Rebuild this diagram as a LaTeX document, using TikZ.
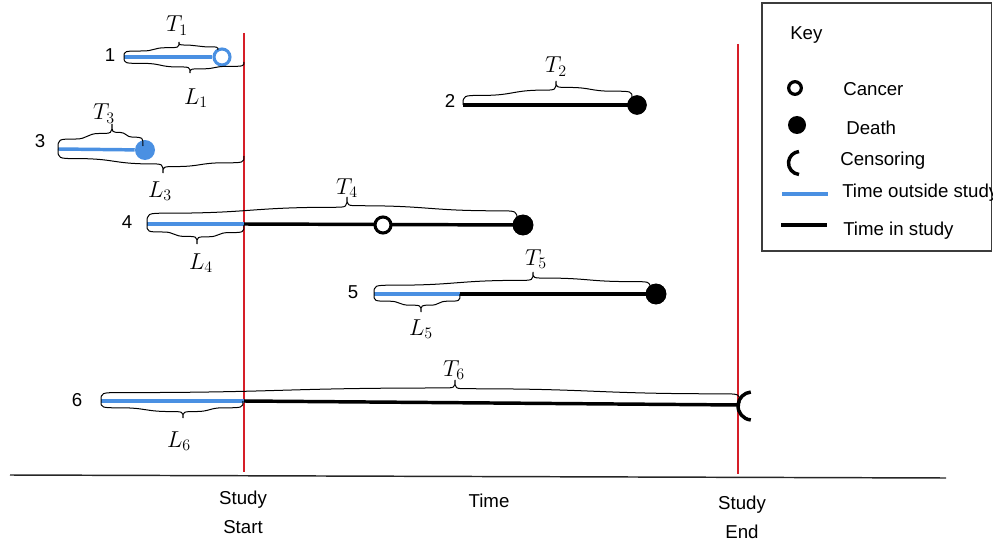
\documentclass[tikz,border=0pt]{standalone}
\usepackage{fontspec}
\setsansfont{Liberation Sans}
\usetikzlibrary{calc}
\definecolor{bluec}{RGB}{74,144,226}
\definecolor{redc}{RGB}{214,30,40}
\definecolor{boxc}{RGB}{60,60,60}
\newcommand\cbrace[3]{%
  \draw[bracestyle] let \p1=(#1),\p2=(#2),\p3=(#3),
    \n1={\y1+0.4*(\y2-\y1)}, \n2={\y1+0.62*(\y2-\y1)},
    \n3={\y3+0.4*(\y2-\y3)}, \n4={\y3+0.62*(\y2-\y3)},
    \n5={min(15pt,(\x2-\x1)/3)}, \n6={min(10pt,(\x2-\x1)/4)},
    \n7={min(15pt,(\x3-\x2)/3)}, \n8={min(10pt,(\x3-\x2)/4)}
  in (\p1) .. controls (\x1,{\n1*1pt}) .. ({\x1+\n5*1pt},{\n1*1pt})
  .. controls ({0.5*(\x1+\n5*1pt+\x2-\n6*1pt)},{\n1*1pt}) and ({0.5*(\x1+\n5*1pt+\x2-\n6*1pt)},{\n2*1pt}) .. ({\x2-\n6*1pt},{\n2*1pt})
  .. controls (\x2,{\n2*1pt}) .. (\p2)
  .. controls (\x2,{\n4*1pt}) .. ({\x2+\n8*1pt},{\n4*1pt})
  .. controls ({0.5*(\x2+\n8*1pt+\x3-\n7*1pt)},{\n4*1pt}) and ({0.5*(\x2+\n8*1pt+\x3-\n7*1pt)},{\n3*1pt}) .. ({\x3-\n7*1pt},{\n3*1pt})
  .. controls (\x3,{\n3*1pt}) .. (\p3);}
\begin{document}
\begin{tikzpicture}[x=0.75pt,y=-0.75pt,
  redline/.style={draw=redc,line width=1.6pt},
  axisline/.style={draw=black!85,line width=1.1pt},
  outline/.style={draw=bluec,line width=2.6pt},
  inline/.style={draw=black,line width=2.6pt},
  bracestyle/.style={draw=black,line width=0.75pt},
  opencirc/.style={circle,draw=#1,fill=white,line width=2.3pt,minimum size=12pt,inner sep=0pt},
  fillcirc/.style={circle,fill=#1,minimum size=15pt,inner sep=0pt},
  censor/.style={draw=black,line width=2.6pt},
  sans/.style={font=\sffamily\fontsize{14}{16}\selectfont,inner sep=0pt,anchor=base},
  keytxt/.style={font=\sffamily\fontsize{14}{16}\selectfont,inner sep=0pt,anchor=base west},
  mlbl/.style={font=\fontsize{17}{19}\selectfont,inner sep=0pt,anchor=base},
  keybox/.style={draw=boxc,line width=1.1pt}]
\useasboundingbox (0,0) rectangle (993,542);

% study start / end lines and axis
\coordinate (ssTop) at (244,33); \coordinate (ssBot) at (244,472);
\coordinate (seTop) at (738,44); \coordinate (seBot) at (738,474);
\draw[redline] (ssTop) -- (ssBot);
\draw[redline] (seTop) -- (seBot);
\coordinate (axL) at (10,475); \coordinate (axR) at (946,478);
\draw[axisline] (axL) -- (axR);
\node[sans] (study1) at (243,504) {Study};
\node[sans] (start) at (243,533) {Start};
\node[sans] (time) at (489,507) {Time};
\node[sans] (study2) at (742,509) {Study};
\node[sans] (end) at (742,538) {End};

% row 1
\node[sans] (n1) at (110,62) {1};
\coordinate (s1) at (124,57);
\node[opencirc=bluec] (c1) at (222,57) {};
\draw[outline] (s1) -- (c1);
\coordinate (T1tip) at (179,42); \coordinate (T1end) at (218,50);
\cbrace{s1}{T1tip}{T1end}
\coordinate (L1tip) at (190,73); \coordinate (L1end) at (244,62);
\cbrace{s1}{L1tip}{L1end}
\node[mlbl] (T1) at (177,32) {$T_1$};
\node[mlbl] (L1) at (196,104) {$L_1$};

% row 2
\node[sans] (n2) at (450,108) {2};
\coordinate (s2) at (463,105);
\node[fillcirc=black,minimum size=14.5pt] (d2) at (637,105) {};
\draw[inline] (s2) -- (d2.center);
\node[fillcirc=black,minimum size=14.5pt] at (d2) {};
\coordinate (T2tip) at (556,81); \coordinate (T2end) at (632,98);
\cbrace{s2}{T2tip}{T2end}
\node[mlbl] (T2) at (556,73) {$T_2$};

% row 3
\node[sans] (n3) at (40,147) {3};
\coordinate (s3) at (58,149);
\node[fillcirc=bluec] (c3) at (145,150) {};
\draw[outline] (s3) -- (c3);
\coordinate (T3tip) at (112,124); \coordinate (T3end) at (143,146);
\cbrace{s3}{T3tip}{T3end}
\coordinate (L3tip) at (163,173); \coordinate (L3end) at (244,156);
\cbrace{s3}{L3tip}{L3end}
\node[mlbl] (T3) at (104,120) {$T_3$};
\node[mlbl] (L3) at (160,197) {$L_3$};

% row 4
\node[sans] (n4) at (127,228) {4};
\coordinate (s4) at (147,224); \coordinate (m4) at (244,224);
\node[fillcirc=black,minimum size=15.5pt] (d4) at (523,225) {};
\draw[outline] (s4) -- (m4);
\draw[inline] (m4) -- (d4.center);
\node[fillcirc=black,minimum size=15.5pt] at (d4) {};
\node[opencirc=black] (o4) at (383,225) {};
\coordinate (T4tip) at (347,197); \coordinate (T4end) at (517,220);
\cbrace{s4}{T4tip}{T4end}
\coordinate (L4tip) at (197,244); \coordinate (L4end) at (244,225);
\cbrace{s4}{L4tip}{L4end}
\node[mlbl] (T4) at (347,194) {$T_4$};
\node[mlbl] (L4) at (201,269) {$L_4$};

% row 5
\node[sans] (n5) at (353,298) {5};
\coordinate (s5) at (374,294); \coordinate (m5) at (460,294);
\node[fillcirc=black,minimum size=15.5pt] (d5) at (656,294) {};
\draw[outline] (s5) -- (m5);
\draw[inline] (m5) -- (d5.center);
\node[fillcirc=black,minimum size=15.5pt] at (d5) {};
\coordinate (T5tip) at (533,272); \coordinate (T5end) at (650,288);
\cbrace{s5}{T5tip}{T5end}
\coordinate (L5tip) at (421,312); \coordinate (L5end) at (460,294);
\cbrace{s5}{L5tip}{L5end}
\node[mlbl] (T5) at (536,265) {$T_5$};
\node[mlbl] (L5) at (421,335) {$L_5$};

% row 6
\node[sans] (n6) at (77,406) {6};
\coordinate (s6) at (101,401); \coordinate (m6) at (244,401);
\coordinate (e6) at (740,405);
\draw[outline] (s6) -- (m6);
\draw[inline] (m6) -- (e6);
\coordinate (cens6) at (752,406);
\draw[censor] (cens6) ++(95:14) arc[start angle=95,end angle=265,radius=14];
\coordinate (T6tip) at (455,380); \coordinate (T6end) at (740,403);
\cbrace{s6}{T6tip}{T6end}
\coordinate (L6tip) at (183,418); \coordinate (L6end) at (243,401);
\cbrace{s6}{L6tip}{L6end}
\node[mlbl] (T6) at (454,376) {$T_6$};
\node[mlbl] (L6) at (179,447) {$L_6$};

% key
\coordinate (kbA) at (762,3); \coordinate (kbB) at (991.5,251);
\draw[keybox] (kbA) rectangle (kbB);
\node[keytxt] (key) at (790,40) {Key};
\node[opencirc=black,minimum size=9.5pt,line width=2.4pt] (kc) at (795,88) {};
\node[keytxt] (kcT) at (843,96) {Cancer};
\node[fillcirc=black,minimum size=13.5pt] (kd) at (797,125) {};
\node[keytxt] (kdT) at (846,134) {Death};
\coordinate (kcen) at (800,163);
\draw[censor] (kcen) ++(95:11.5) arc[start angle=95,end angle=265,radius=11.5];
\node[keytxt] (kcenT) at (840,166) {Censoring};
\coordinate (kbl1) at (782,194); \coordinate (kbl2) at (828,194);
\draw[outline] (kbl1) -- (kbl2);
\node[keytxt] (koT) at (842,197) {Time outside study};
\coordinate (kk1) at (781,225); \coordinate (kk2) at (827,225);
\draw[inline] (kk1) -- (kk2);
\node[keytxt] (kiT) at (843,235) {Time in study};
\end{tikzpicture}
\end{document}
